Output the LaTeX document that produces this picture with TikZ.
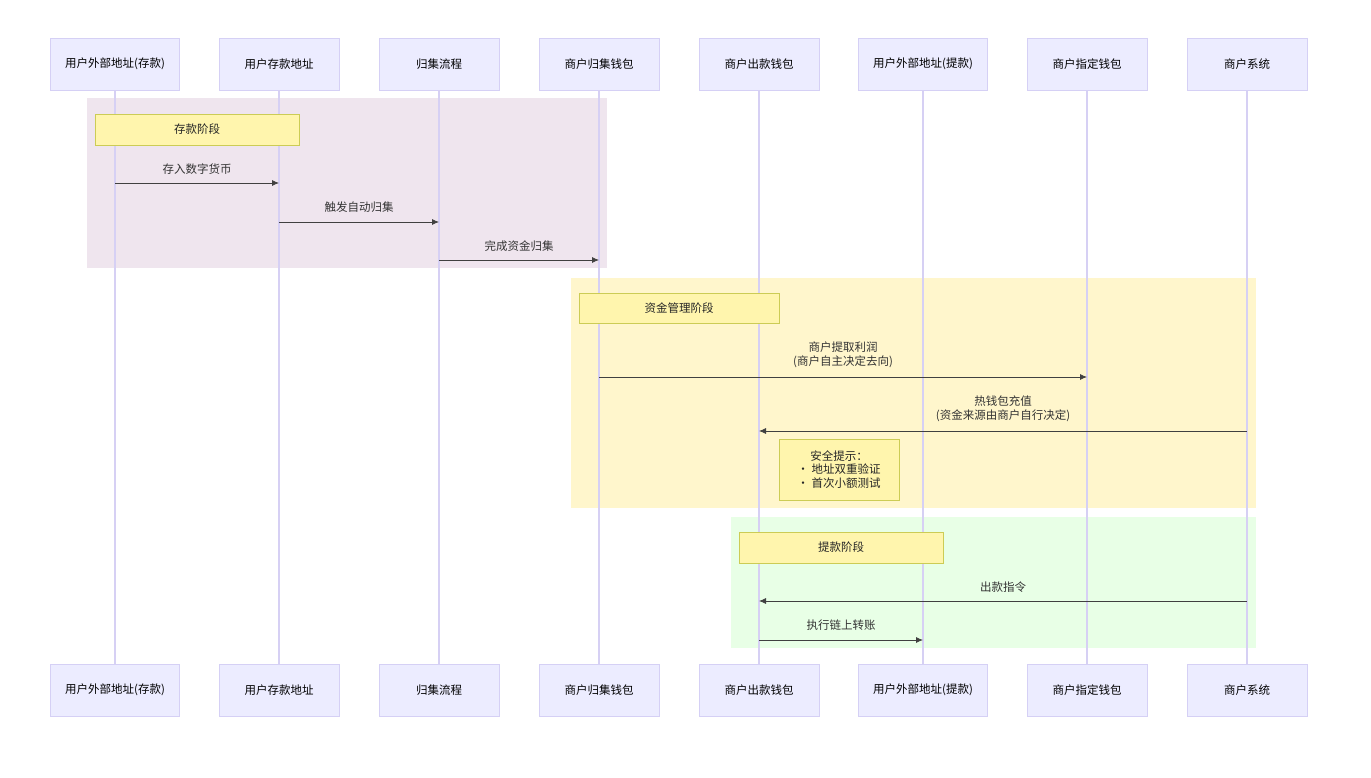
\documentclass[tikz,border=0pt]{standalone}
\usepackage{fontspec}
\setmainfont{Noto Sans CJK SC}
\begin{document}
\begin{tikzpicture}[x=1pt,y=-1pt,
 actor/.style={draw=actS,fill=actF,line width=0.8pt,minimum width=120pt,minimum height=52pt,font=\fontsize{11.5}{13}\selectfont,text=black},
 note/.style={draw=noteS,fill=noteF,line width=0.8pt,font=\fontsize{11.5}{13.5}\selectfont,text=black!85},
 msg/.style={line width=0.8pt,draw=black!75,-{Latex[length=7pt,width=6pt]}},
 lab/.style={font=\fontsize{11.5}{14}\selectfont,text=black!80,align=center},
 life/.style={draw=lifeC,line width=1.3pt}]
\usetikzlibrary{arrows.meta}
\definecolor{actF}{HTML}{ECECFF}\definecolor{actS}{HTML}{D5D0F5}
\definecolor{lifeC}{HTML}{D6D0F4}
\definecolor{noteF}{HTML}{FFF5AD}\definecolor{noteS}{HTML}{CCCC55}
\definecolor{pinkB}{HTML}{EFE5EE}\definecolor{yelB}{HTML}{FFF6CC}\definecolor{grnB}{HTML}{E8FFE6}
\useasboundingbox (0,0) rectangle (1371,778);
\fill[white] (0,0) rectangle (1371,778);
\fill[pinkB] (87,98) rectangle (607,268);
\fill[yelB] (571,278) rectangle (1256,508);
\fill[grnB] (731,517) rectangle (1256,648);
\foreach \i/\x/\w/\t in {a/115/129/用户外部地址(存款),b/279/120/用户存款地址,c/439/120/归集流程,d/599/120/商户归集钱包,e/759/120/商户出款钱包,f/923/129/用户外部地址(提款),g/1087/120/商户指定钱包,h/1247/120/商户系统}{
 \draw[life] (\x,90) -- (\x,664);
 \node[actor,minimum width=\w pt] (\i1) at (\x,64) {\t};
 \node[actor,minimum width=\w pt] (\i2) at (\x,690) {\t};
}
\node[note,minimum width=204pt,minimum height=31pt] (n1) at (197,129.5) {存款阶段};
\node[note,minimum width=200pt,minimum height=30pt] (n2) at (679,308) {资金管理阶段};
\node[note,minimum width=120pt,minimum height=61pt,align=center] (n3) at (839,469.5) {安全提示：\\• 地址双重验证\\• 首次小额测试};
\node[note,minimum width=204pt,minimum height=31pt] (n4) at (841,547.5) {提款阶段};
\coordinate (p1) at (115,183);\coordinate (q1) at (279,183);
\coordinate (p2) at (279,222);\coordinate (q2) at (439,222);
\coordinate (p3) at (439,260);\coordinate (q3) at (599,260);
\coordinate (p4) at (599,377);\coordinate (q4) at (1087,377);
\coordinate (p5) at (1247,431);\coordinate (q5) at (759,431);
\coordinate (p6) at (1247,601);\coordinate (q6) at (759,601);
\coordinate (p7) at (759,640);\coordinate (q7) at (923,640);
\draw[msg] (p1) -- (q1); \node[lab] at (197,169) {存入数字货币};
\draw[msg] (p2) -- (q2); \node[lab] at (359,207) {触发自动归集};
\draw[msg] (p3) -- (q3); \node[lab] at (519,246) {完成资金归集};
\draw[msg] (p4) -- (q4); \node[lab] at (843,354.5) {商户提取利润\\(商户自主决定去向)};
\draw[msg] (p5) -- (q5); \node[lab] at (1003,408.5) {热钱包充值\\(资金来源由商户自行决定)};
\draw[msg] (p6) -- (q6); \node[lab] at (1003,587) {出款指令};
\draw[msg] (p7) -- (q7); \node[lab] at (841,625) {执行链上转账};
\end{tikzpicture}
\end{document}
